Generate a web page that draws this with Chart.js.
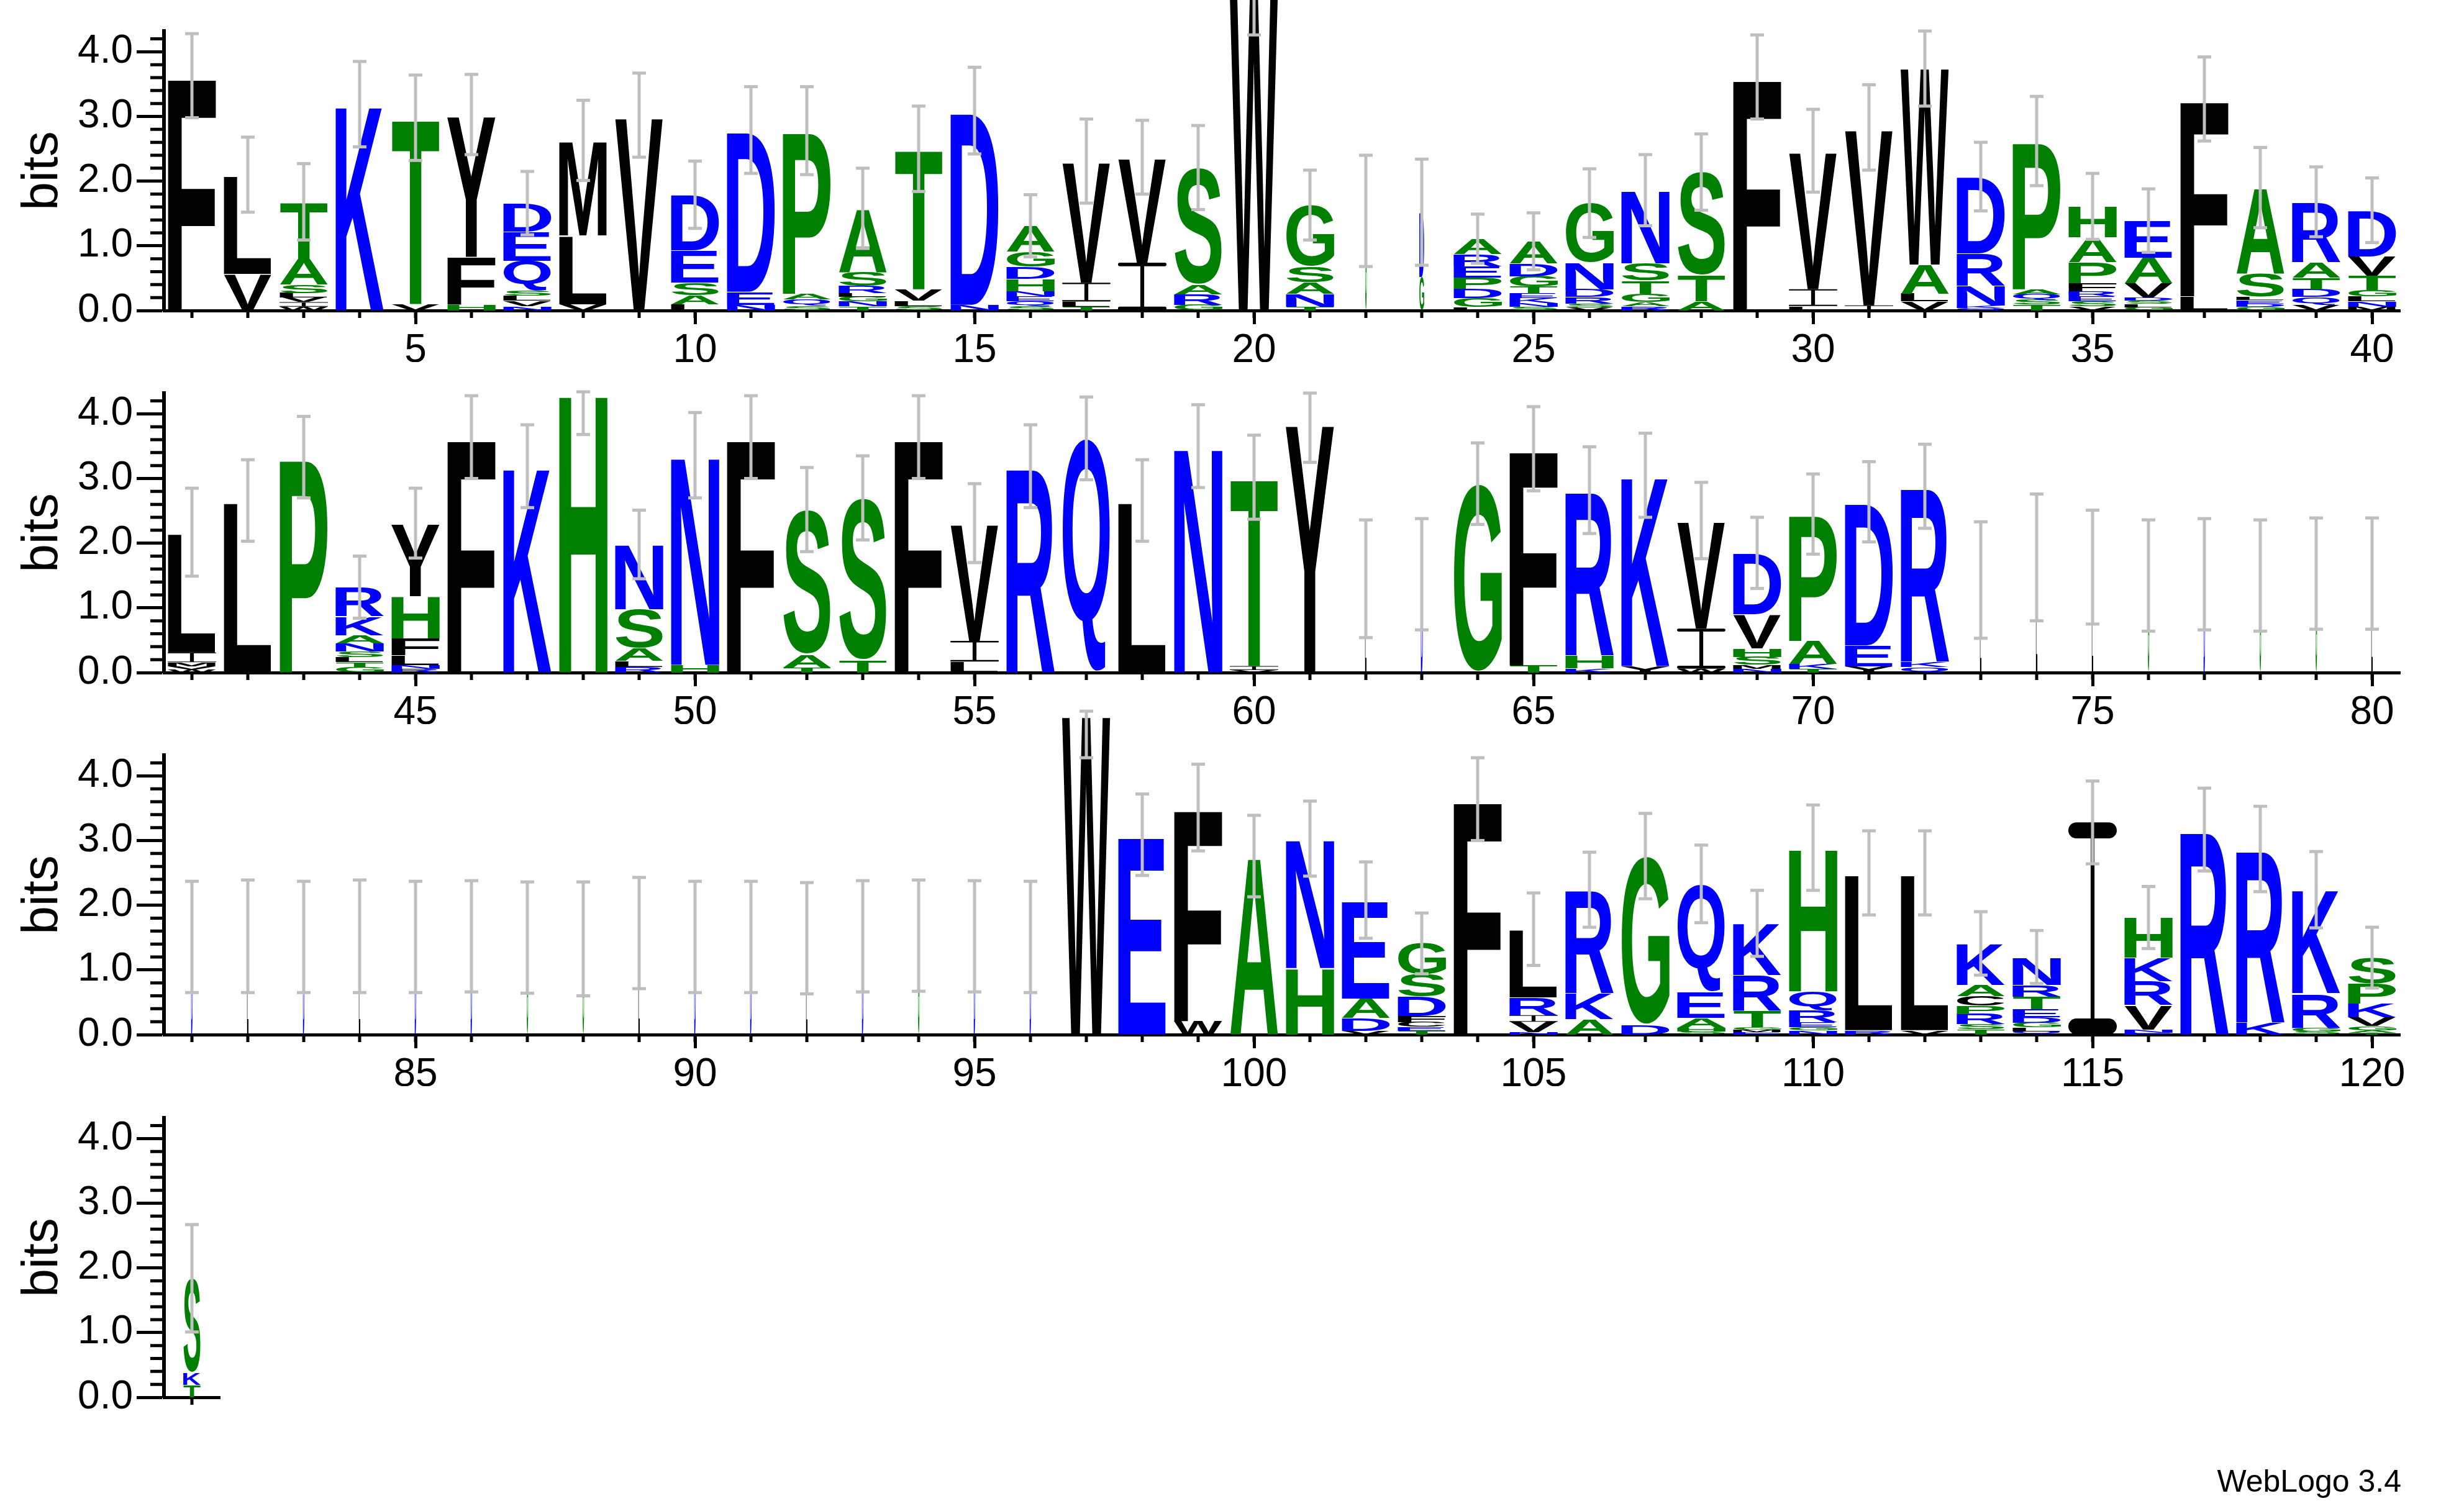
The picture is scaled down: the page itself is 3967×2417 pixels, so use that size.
<!DOCTYPE html>
<html>
<head>
<meta charset="utf-8">
<title>WebLogo</title>
<script src="https://cdn.jsdelivr.net/npm/chart.js@4.4.1/dist/chart.umd.min.js"></script>
<style>
  html, body { margin: 0; padding: 0; background: #fff; }
  body { width: 3967px; height: 2417px; position: relative; overflow: hidden; }
  .logo-row { position: absolute; left: 0; }
  #credit { position: absolute; right: 101px; top: 2360px; font: 50px/50px "Liberation Sans", Arial, sans-serif; color: #000; }
</style>
</head>
<body>
<canvas class="logo-row" id="row1" width="3967" height="643" style="top:-60px"></canvas>
<canvas class="logo-row" id="row2" width="3967" height="643" style="top:523px"></canvas>
<canvas class="logo-row" id="row3" width="3967" height="643" style="top:1106px"></canvas>
<canvas class="logo-row" id="row4" width="3967" height="643" style="top:1690px"></canvas>
<div id="credit">WebLogo 3.4</div>
<script>
(function () {
    'use strict';

    // Sequence positions (x tick labels)
    const positions = Array.from({ length: 121 }, (_, i) => i + 1);

    // Letters of each stack, top to bottom
    const stackLetters = [
        'F', 'LV', 'TASLVIW', 'K', 'TV', 'YFH', 'DEQSLVN', 'MLV', 'V', 'DESAL',
        'DEN', 'PAQS', 'ASRLGNT', 'TVLS', 'DN', 'AGDHNEQS', 'VILT', 'VI', 'SARG', 'W',
        'GSANT', 'G', 'DG', 'AREPDGL', 'ADGTEKNS', 'GNDRSV', 'NSTGAR', 'STA', 'F', 'VIL',
        'VI', 'WALV', 'DRNKQ', 'PAQST', 'HAPFRESV', 'EAVDSLG', 'FL', 'ASLEDG', 'RATDQV', 'DVTGLNM',
        'LIMVW', 'L', 'P', 'RKANSLTG', 'YHFLNR', 'F', 'K', 'H', 'NSALR', 'NH',
        'F', 'SAT', 'ST', 'F', 'VIL', 'R', 'Q', 'L', 'N', 'TIV',
        'Y', 'L', 'D', 'G', 'FT', 'RHK', 'KY', 'VIW', 'DVHSMN', 'PAKT',
        'DEY', 'RKQ', 'L', 'L', 'L', 'G', 'D', 'G', 'G', 'L',
        'D', 'L', 'D', 'L', 'D', 'D', 'G', 'G', 'L', 'D',
        'D', 'L', 'D', 'G', 'D', 'D', 'W', 'E', 'FW', 'A',
        'NH', 'EADV', 'GSDFCET', 'F', 'LRIVN', 'RKA', 'GD', 'QEAHS', 'KRTGME', 'HQREGN',
        'LR', 'LV', 'KACPRST', 'NRTEDGLQ', 'I', 'HKRVNE', 'R', 'RK', 'KRGS', 'SPKVGAT',
        'SKT'
    ];

    // Bits of each letter, same order as stackLetters
    const stackBits = [
        [3.63], [1.53, 0.57], [0.88, 0.40, 0.13, 0.07, 0.07, 0.07, 0.06], [3.19], [2.88, 0.10],
        [2.20, 0.74, 0.09], [0.44, 0.45, 0.46, 0.08, 0.08, 0.08, 0.07], [1.47, 1.06, 0.10], [3.02], [0.86, 0.50, 0.19, 0.14, 0.10],
        [2.50, 0.20, 0.09], [2.52, 0.09, 0.10, 0.07], [0.98, 0.22, 0.11, 0.06, 0.07, 0.07, 0.07], [2.17, 0.18, 0.08, 0.07], [3.00, 0.09],
        [0.40, 0.23, 0.19, 0.19, 0.08, 0.08, 0.07, 0.07], [1.88, 0.29, 0.08, 0.06], [1.63, 0.74], [1.81, 0.15, 0.16, 0.09], [4.95],
        [0.95, 0.24, 0.18, 0.20, 0.06], [1.54], [1.00, 0.52], [0.24, 0.19, 0.17, 0.17, 0.15, 0.14, 0.05], [0.34, 0.20, 0.16, 0.11, 0.07, 0.07, 0.06, 0.06],
        [0.92, 0.41, 0.12, 0.10, 0.06, 0.05], [1.13, 0.27, 0.20, 0.13, 0.06, 0.07], [1.60, 0.40, 0.14], [3.61], [2.14, 0.26, 0.07],
        [2.75, 0.08], [3.08, 0.45, 0.12, 0.14], [1.19, 0.50, 0.30, 0.04, 0.04], [2.29, 0.08, 0.09, 0.07, 0.09], [0.48, 0.38, 0.33, 0.12, 0.08, 0.08, 0.07, 0.07],
        [0.57, 0.40, 0.22, 0.05, 0.05, 0.05, 0.05], [3.05, 0.22], [1.33, 0.36, 0.05, 0.05, 0.05, 0.06], [0.93, 0.24, 0.18, 0.12, 0.12, 0.09], [0.71, 0.30, 0.22, 0.10, 0.08, 0.08, 0.06],
        [1.86, 0.15, 0.06, 0.05, 0.05], [2.66], [3.33], [0.45, 0.29, 0.13, 0.12, 0.09, 0.08, 0.08, 0.08], [1.13, 0.65, 0.26, 0.15, 0.06, 0.06],
        [3.64], [3.19], [4.34], [1.00, 0.60, 0.20, 0.09, 0.09], [3.24, 0.12],
        [3.64], [2.24, 0.20, 0.08], [2.51, 0.19], [3.64], [1.82, 0.32, 0.17],
        [3.19], [3.62], [2.66], [3.50], [2.92, 0.06, 0.04],
        [3.88], [1.45], [1.52], [2.92], [3.35, 0.11],
        [2.55, 0.20, 0.07], [2.95, 0.10], [1.67, 0.62, 0.06], [0.95, 0.53, 0.13, 0.12, 0.06, 0.06], [1.96, 0.36, 0.07, 0.06],
        [2.22, 0.32, 0.10], [2.71, 0.08, 0.09], [1.43], [1.78], [1.63],
        [1.50], [1.52], [1.50], [1.53], [1.53],
        [1.51], [1.52], [1.51], [1.52], [1.51],
        [1.52], [1.50], [1.48], [1.57], [1.51],
        [1.51], [1.49], [1.52], [1.53], [1.52],
        [1.51], [5.00], [3.09], [3.30, 0.21], [2.76],
        [2.00, 1.03], [1.52, 0.30, 0.20, 0.06], [0.48, 0.34, 0.30, 0.10, 0.07, 0.06, 0.06], [3.64], [1.05, 0.28, 0.10, 0.16, 0.04],
        [1.60, 0.40, 0.24], [2.61, 0.15], [1.67, 0.40, 0.15, 0.06, 0.05], [0.80, 0.55, 0.25, 0.04, 0.04, 0.04], [2.22, 0.29, 0.19, 0.07, 0.05, 0.07],
        [2.43, 0.07], [2.43, 0.07], [0.64, 0.17, 0.15, 0.13, 0.16, 0.08, 0.08], [0.43, 0.18, 0.20, 0.12, 0.09, 0.07, 0.06, 0.05], [3.28],
        [0.62, 0.36, 0.37, 0.38, 0.05, 0.03], [3.17], [2.68, 0.19], [1.60, 0.53, 0.06, 0.05], [0.40, 0.31, 0.21, 0.14, 0.06, 0.04, 0.03],
        [1.46, 0.19, 0.19]
    ];

    // Half length of each error bar, in bits
    const errorHalf = [
        0.65, 0.58, 0.59, 0.66, 0.66, 0.62, 0.49, 0.62, 0.65, 0.52,
        0.67, 0.68, 0.62, 0.66, 0.67, 0.48, 0.65, 0.57, 0.65, 0.69,
        0.54, 0.86, 0.82, 0.38, 0.44, 0.53, 0.55, 0.59, 0.65, 0.64,
        0.66, 0.63, 0.53, 0.69, 0.51, 0.49, 0.65, 0.62, 0.54, 0.50,
        0.68, 0.63, 0.63, 0.48, 0.54, 0.64, 0.64, 0.66, 0.53, 0.66,
        0.64, 0.65, 0.65, 0.64, 0.61, 0.64, 0.64, 0.63, 0.64, 0.65,
        0.63, 0.91, 0.86, 0.63, 0.65, 0.67, 0.65, 0.59, 0.55, 0.62,
        0.62, 0.65, 0.90, 0.98, 0.88, 0.86, 0.86, 0.86, 0.86, 0.86,
        0.86, 0.87, 0.86, 0.87, 0.86, 0.86, 0.86, 0.88, 0.86, 0.86,
        0.86, 0.86, 0.86, 0.86, 0.86, 0.86, 0.72, 0.63, 0.67, 0.63,
        0.58, 0.59, 0.47, 0.64, 0.56, 0.58, 0.66, 0.60, 0.51, 0.66,
        0.65, 0.65, 0.49, 0.41, 0.64, 0.48, 0.64, 0.66, 0.59, 0.47,
        0.83
    ];

    // Stack width as a fraction of the full column (gappy columns are narrow)
    const stackWidth = [
        1, 1, 1, 1, 1, 1, 1, 1, 1, 1,
        1, 1, 1, 1, 1, 1, 1, 1, 1, 1,
        1, 0.03, 0.1, 1, 1, 1, 1, 1, 1, 1,
        1, 1, 1, 1, 1, 1, 1, 1, 1, 1,
        1, 1, 1, 1, 1, 1, 1, 1, 1, 1,
        1, 1, 1, 1, 1, 1, 1, 1, 1, 1,
        1, 0.03, 0.04, 1, 1, 1, 1, 1, 1, 1,
        1, 1, 0.03, 0.03, 0.03, 0.03, 0.03, 0.03, 0.03, 0.03,
        0.03, 0.03, 0.03, 0.03, 0.03, 0.03, 0.03, 0.03, 0.03, 0.03,
        0.03, 0.03, 0.03, 0.03, 0.03, 0.03, 1, 1, 1, 1,
        1, 1, 1, 1, 1, 1, 1, 1, 1, 1,
        1, 1, 1, 1, 1, 1, 1, 1, 1, 1,
        0.36
    ];

    const rowRanges = [[1, 40], [41, 80], [81, 120], [121, 121]];
    const Y_MAX = 4.32;
    const FONT = '"Liberation Sans", Arial, Helvetica, sans-serif';
    const GLYPH_FONT = 'bold 400px ' + FONT;

    function letterColor(ch) {
        if ('RKDENQ'.indexOf(ch) >= 0) return '#0000ff';
        if ('SGHTAP'.indexOf(ch) >= 0) return '#008000';
        return '#000000';
    }

    const glyphCache = {};
    function glyphBox(ctx, ch) {
        if (!glyphCache[ch]) {
            ctx.save();
            ctx.font = GLYPH_FONT;
            const m = ctx.measureText(ch);
            glyphCache[ch] = {
                l: m.actualBoundingBoxLeft, r: m.actualBoundingBoxRight,
                a: m.actualBoundingBoxAscent, d: m.actualBoundingBoxDescent
            };
            ctx.restore();
        }
        return glyphCache[ch];
    }

    function drawLetter(ctx, ch, cx, top, w, h) {
        if (h <= 0 || w <= 0) return;
        ctx.save();
        ctx.fillStyle = letterColor(ch);
        if (ch === 'I') {
            // WebLogo draws I with serifs
            const bar = Math.max(1, h * 0.075);
            const stem = Math.max(1, w * 0.08);
            ctx.fillRect(cx - stem / 2, top + bar / 2, stem, h - bar);
            ctx.beginPath();
            ctx.roundRect(cx - w / 2, top, w, bar, bar / 2);
            ctx.roundRect(cx - w / 2, top + h - bar, w, bar, bar / 2);
            ctx.fill();
        } else {
            const g = glyphBox(ctx, ch);
            ctx.translate(cx - w / 2, top);
            ctx.scale(w / (g.l + g.r), h / (g.a + g.d));
            ctx.font = GLYPH_FONT;
            ctx.textAlign = 'left';
            ctx.textBaseline = 'alphabetic';
            ctx.fillText(ch, g.l, g.a);
        }
        ctx.restore();
    }

    function makeLogoPlugin(idx) {
        return {
            id: 'logo',
            afterDatasetsDraw(chart) {
                const ctx = chart.ctx;
                const xs = chart.scales.x, ys = chart.scales.y;
                chart.data.datasets.forEach((ds, d) => {
                    chart.getDatasetMeta(d).data.forEach((bar, j) => {
                        if (!ds.data[j]) return;
                        const top = Math.min(bar.y, bar.base);
                        const h = Math.abs(bar.base - bar.y);
                        drawLetter(ctx, ds.letters[j], bar.x, top, bar.width * stackWidth[idx[j]], h);
                    });
                });

                // error bars
                ctx.save();
                ctx.strokeStyle = '#bfbfbf';
                ctx.fillStyle = '#bfbfbf';
                ctx.lineWidth = 5;
                idx.forEach((i, j) => {
                    const c = stackBits[i].reduce((a, b) => a + b, 0);
                    const lo = c - errorHalf[i];
                    const hi = Math.min(c + errorHalf[i], Math.max(Y_MAX, c));
                    const px = xs.getPixelForValue(j);
                    const pLo = ys.getPixelForValue(lo);
                    const pHi = ys.getPixelForValue(hi);
                    ctx.beginPath();
                    ctx.moveTo(px, pLo);
                    ctx.lineTo(px, pHi);
                    ctx.stroke();
                    ctx.fillRect(px - 11, pLo - 2.5, 22, 5);
                    ctx.fillRect(px - 11, pHi - 2.5, 22, 5);
                });
                ctx.restore();
            },
            afterDraw(chart) {
                // minor tick marks
                const ctx = chart.ctx;
                const area = chart.chartArea;
                const xs = chart.scales.x, ys = chart.scales.y;
                ctx.save();
                ctx.strokeStyle = '#000';
                ctx.lineWidth = 5;
                ctx.beginPath();
                ys.ticks.forEach(t => {
                    if (Math.abs(t.value - Math.round(t.value)) < 1e-6) return;
                    const py = ys.getPixelForValue(t.value);
                    ctx.moveTo(area.left - 22, py);
                    ctx.lineTo(area.left, py);
                });
                xs.ticks.forEach((t, j) => {
                    const px = xs.getPixelForValue(j);
                    ctx.moveTo(px, area.bottom);
                    ctx.lineTo(px, area.bottom + 12);
                });
                ctx.stroke();
                ctx.restore();
            }
        };
    }

    function buildRow(canvasId, from, to) {
        const idx = [];
        for (let p = from; p <= to; p++) idx.push(p - 1);
        const labels = idx.map(i => String(positions[i]));
        const depth = Math.max(...idx.map(i => stackBits[i].length));

        const datasets = [];
        for (let r = 0; r < depth; r++) {
            datasets.push({
                data: idx.map(i => {
                    const b = stackBits[i];
                    return r < b.length ? b[b.length - 1 - r] : 0;
                }),
                letters: idx.map(i => {
                    const s = stackLetters[i];
                    return r < s.length ? s[s.length - 1 - r] : '';
                }),
                backgroundColor: 'rgba(0,0,0,0)',
                borderWidth: 0,
                barPercentage: 0.867,
                categoryPercentage: 1
            });
        }

        const isFifth = (ctx) => Number(labels[ctx.index]) % 5 === 0;
        const rightPad = 3967 - (264 + 90 * idx.length);

        new Chart(document.getElementById(canvasId), {
            type: 'bar',
            data: { labels: labels, datasets: datasets },
            options: {
                responsive: false,
                animation: false,
                events: [],
                layout: { padding: { top: 110, right: rightPad, bottom: 0, left: 0 } },
                plugins: {
                    legend: { display: false },
                    tooltip: { enabled: false }
                },
                scales: {
                    x: {
                        stacked: true,
                        offset: true,
                        border: { display: true, color: '#000', width: 5 },
                        grid: {
                            display: true, drawOnChartArea: false, offset: false,
                            drawTicks: true, tickLength: 22, tickWidth: 5,
                            tickColor: ctx => isFifth(ctx) ? '#000' : 'rgba(0,0,0,0)'
                        },
                        ticks: {
                            autoSkip: false, maxRotation: 0, minRotation: 0, padding: 5,
                            color: '#000', font: { family: FONT, size: 64 },
                            callback: (v, i) => Number(labels[i]) % 5 === 0 ? labels[i] : ''
                        },
                        afterFit: s => { s.height = 83; }
                    },
                    y: {
                        stacked: true,
                        min: 0,
                        max: Y_MAX,
                        border: { display: true, color: '#000', width: 6 },
                        grid: {
                            display: true, drawOnChartArea: false,
                            drawTicks: true, tickLength: 44, tickWidth: 5,
                            tickColor: ctx => Math.abs(ctx.tick.value - Math.round(ctx.tick.value)) < 1e-6 ? '#000' : 'rgba(0,0,0,0)'
                        },
                        ticks: {
                            stepSize: 0.2, autoSkip: false, includeBounds: false, padding: 6,
                            color: '#000', font: { family: FONT, size: 64 },
                            callback: v => Math.abs(v - Math.round(v)) < 1e-6 ? v.toFixed(1) : ''
                        },
                        title: {
                            display: true, text: 'bits', color: '#000',
                            font: { family: FONT, size: 82 },
                            padding: { top: 20, bottom: 0 }
                        },
                        afterFit: s => { s.width = 264; }
                    }
                }
            },
            plugins: [makeLogoPlugin(idx)]
        });
    }

    rowRanges.forEach((r, k) => buildRow('row' + (k + 1), r[0], r[1]));
})();
</script>
</body>
</html>
